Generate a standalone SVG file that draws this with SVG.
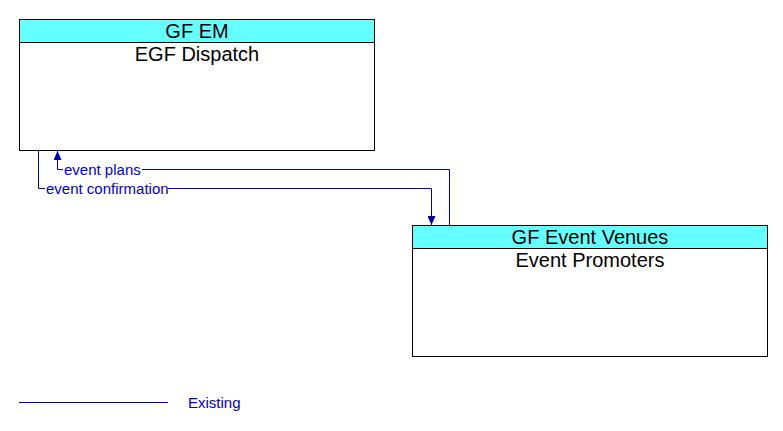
<svg xmlns="http://www.w3.org/2000/svg" width="783" height="431" viewBox="0 0 783 431">
<style>
.box{fill:#fff;stroke:#000;stroke-width:1}
.hdr{fill:#66ffff;stroke:#000;stroke-width:1}
.t{font-family:"Liberation Sans",Arial,sans-serif;font-size:20px;fill:#000;text-anchor:middle}
.c{fill:none;stroke:#0000b0;stroke-width:1}
.l{font-family:"Liberation Sans",Arial,sans-serif;font-size:15px;fill:#0000cc}
</style>
<defs>
<marker id="ah" viewBox="0 0 9 8" refX="9" refY="4" markerWidth="9" markerHeight="8" orient="auto" markerUnits="userSpaceOnUse">
<path d="M0,0 L9,4 L0,8 Z" fill="#0000b0"/>
</marker>
</defs>
<rect width="783" height="431" fill="#fff"/>
<g id="node-egf-dispatch">
<rect class="box" x="19.5" y="19.5" width="355" height="131"/>
<rect class="hdr" x="19.5" y="19.5" width="355" height="23"/>
<text class="t" x="197" y="38">GF EM</text>
<text class="t" x="197" y="61">EGF Dispatch</text>
</g>
<g id="node-event-promoters">
<rect class="box" x="412.5" y="225.5" width="355" height="131"/>
<rect class="hdr" x="412.5" y="225.5" width="355" height="23"/>
<text class="t" x="590" y="244">GF Event Venues</text>
<text class="t" x="590" y="267">Event Promoters</text>
</g>
<g id="connectors">
<path class="c" d="M449.5,225 V169.5 H142 M63,169.5 H57.5 V151" marker-end="url(#ah)"/>
<path class="c" d="M38.5,151 V188.5 H45 M168,188.5 H431.5 V225" marker-end="url(#ah)"/>
<text class="l" x="64" y="175">event plans</text>
<text class="l" x="46" y="194">event confirmation</text>
</g>
<g id="legend">
<line class="c" x1="19" y1="402.5" x2="168" y2="402.5"/>
<text class="l" x="188" y="408">Existing</text>
</g>
</svg>
